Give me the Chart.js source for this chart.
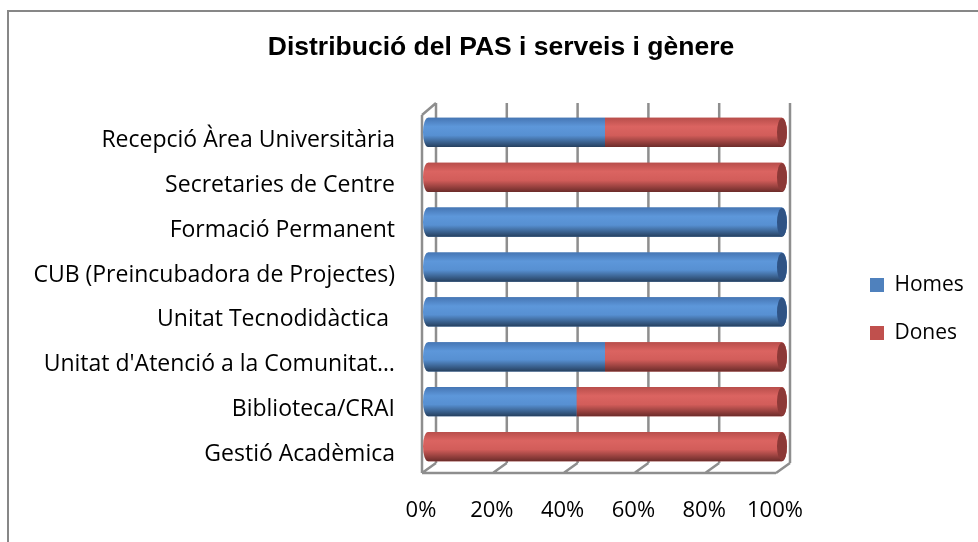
<!DOCTYPE html>
<html>
<head>
<meta charset="utf-8">
<script src="https://cdn.jsdelivr.net/npm/chart.js@4"></script>
<style>
  body { margin: 0; background: #fff; }
  #frame { position: absolute; left: 7px; top: 10px; width: 980px; height: 540px;
           border-left: 2px solid #878787; border-top: 2px solid #878787; }
  #chart { position: absolute; left: 0; top: 0; }
</style>
</head>
<body>
<div id="frame"></div>
<canvas id="chart" width="978" height="542"></canvas>
<script>
// dades del gràfic (percentatges, de dalt a baix)
const serveis = [
    'Recepció Àrea Universitària',
    'Secretaries de Centre',
    'Formació Permanent',
    'CUB (Preincubadora de Projectes)',
    'Unitat Tecnodidàctica ',
    "Unitat d'Atenció a la Comunitat…",
    'Biblioteca/CRAI',
    'Gestió Acadèmica'
];
const homes = [50, 0, 100, 100, 100, 50, 42, 0];
const dones = [50, 100, 0, 0, 0, 50, 58, 100];
const xTicks = [0, 20, 40, 60, 80, 100];

// colors tipus Excel 2007
const blau = '#4F81BD';
const vermell = '#C0504D';
const ombres = [
    ['#4676B4', '#5D97DA', '#5790D2', '#26405F'],
    ['#B84E4B', '#DB6461', '#D25D5A', '#6C2C2A']
];
const tapes = ['#2F5384', '#8C3937'];

const lletra = '"Open Sans", sans-serif';


// parets i graella en perspectiva
const marc3d = {
    id: 'marc3d',
    beforeDatasetsDraw(chart) {
        const ctx = chart.ctx;
        const a = chart.chartArea;
        const x = chart.scales.x;
        ctx.save();
        ctx.strokeStyle = '#8E8E8E';
        ctx.lineWidth = 2.5;
        ctx.beginPath();
        xTicks.forEach(v => {
            const px = x.getPixelForValue(v);
            // paret del fons
            ctx.moveTo(px + 8, a.top - 7);
            ctx.lineTo(px + 8, a.bottom - 6);
            // terra
            ctx.moveTo(px - 6, a.bottom + 4);
            ctx.lineTo(px + 8, a.bottom - 6);
        });
        // paret esquerra
        ctx.moveTo(a.left - 6, a.top + 5);
        ctx.lineTo(a.left - 6, a.bottom + 4);
        ctx.moveTo(a.left - 6, a.top + 5);
        ctx.lineTo(a.left + 8, a.top - 7);
        // vora del terra
        ctx.moveTo(a.left - 6, a.bottom + 4);
        ctx.lineTo(x.getPixelForValue(100) - 6, a.bottom + 4);
        ctx.stroke();
        ctx.restore();
    }
};

// efecte cilindre sobre les barres
const cilindres = {
    id: 'cilindres',
    afterDatasetsDraw(chart) {
        const ctx = chart.ctx;
        const x = chart.scales.x;
        const x0 = x.getPixelForValue(0);
        const x100 = x.getPixelForValue(100);
        chart.data.datasets.forEach((ds, i) => {
            const meta = chart.getDatasetMeta(i);
            meta.data.forEach(el => {
                const left = Math.min(el.x, el.base);
                const right = Math.max(el.x, el.base);
                if (right - left < 0.5) return;
                const top = el.y - el.height / 2;
                const h = el.height;
                const g = ctx.createLinearGradient(0, top, 0, top + h);
                g.addColorStop(0, ombres[i][0]);
                g.addColorStop(0.3, ombres[i][1]);
                g.addColorStop(0.6, ombres[i][2]);
                g.addColorStop(1, ombres[i][3]);
                ctx.save();
                ctx.fillStyle = g;
                ctx.beginPath();
                if (Math.abs(left - x0) < 1) {
                    ctx.ellipse(left, el.y, 5, h / 2, 0, Math.PI / 2, Math.PI * 1.5);
                } else {
                    ctx.moveTo(left, top + h);
                    ctx.lineTo(left, top);
                }
                if (Math.abs(right - x100) < 1) {
                    ctx.lineTo(right, top);
                    ctx.ellipse(right, el.y, 5, h / 2, 0, -Math.PI / 2, Math.PI / 2);
                } else {
                    ctx.lineTo(right, top);
                    ctx.lineTo(right, top + h);
                }
                ctx.closePath();
                ctx.fill();
                if (Math.abs(right - x100) < 1) {
                    ctx.fillStyle = tapes[i];
                    ctx.beginPath();
                    ctx.ellipse(right, el.y, 5, h / 2 - 0.5, 0, 0, Math.PI * 2);
                    ctx.fill();
                }
                ctx.restore();
            });
        });
    }
};

// llegenda a la dreta, com a l'original
const llegenda = {
    id: 'llegenda',
    beforeLayout(chart) {
        const lg = chart.legend;
        if (lg && !lg.ajustada) {
            const fit = lg.fit;
            lg.fit = function () {
                fit.call(this);
                this.width = 196;
            };
            lg.ajustada = true;
        }
    },
    afterLayout(chart) {
        const lg = chart.legend;
        const dx = 870 - (lg.left + lg.options.labels.padding);
        lg.left += dx;
        lg.right += dx;
        lg.top += 38;
        lg.bottom += 38;
    }
};


new Chart(document.getElementById('chart'), {
    type: 'bar',
    data: {
        labels: serveis,
        datasets: [
            { label: 'Homes', data: homes, backgroundColor: blau, barPercentage: 0.65, categoryPercentage: 1 },
            { label: 'Dones', data: dones, backgroundColor: vermell, barPercentage: 0.65, categoryPercentage: 1 }
        ]
    },
    options: {
        indexAxis: 'y',
        responsive: false,
        animation: false,
        layout: { padding: { left: 24, top: 0, right: 0, bottom: 0 } },
        plugins: {
            title: {
                display: true,
                text: 'Distribució del PAS i serveis i gènere',
                color: '#000',
                font: { family: '"Liberation Sans", Arial, sans-serif', size: 26.5, weight: 'bold' },
                padding: { top: 32, bottom: 46.2 }
            },
            legend: {
                position: 'right',
                labels: {
                    color: '#000',
                    boxWidth: 14,
                    boxHeight: 14,
                    padding: 27,
                    font: { family: lletra, size: 21 }
                }
            },
            tooltip: { enabled: false }
        },
        scales: {
            x: {
                stacked: true,
                min: 0,
                max: 100,
                grid: { display: false, drawTicks: false },
                border: { display: false },
                ticks: {
                    stepSize: 20,
                    padding: 29,
                    labelOffset: -7,
                    color: '#000',
                    font: { family: lletra, size: 22 },
                    callback: v => v + '%'
                },
                afterFit: s => { s.height = 73; }
            },
            y: {
                stacked: true,
                grid: { display: false, drawTicks: false },
                border: { display: false },
                ticks: {
                    padding: 33,
                    labelOffset: 8,
                    color: '#000',
                    font: { family: lletra, size: 23 }
                },
                afterFit: s => { s.width = 404; }
            }
        }
    },
    plugins: [marc3d, cilindres, llegenda]
});
</script>
</body>
</html>
